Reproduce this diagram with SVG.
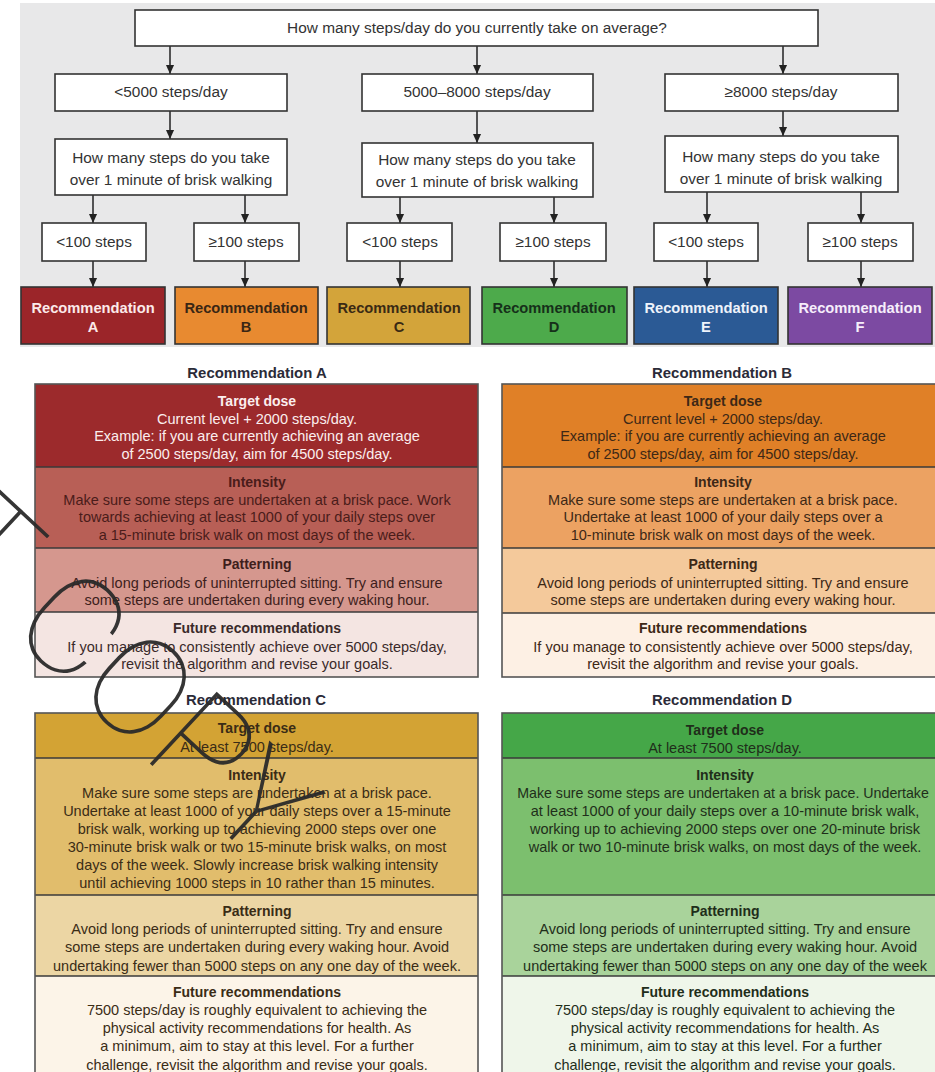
<svg xmlns="http://www.w3.org/2000/svg" width="935" height="1072" viewBox="0 0 935 1072">
<style>
text{font-family:"Liberation Sans",Arial,sans-serif;text-anchor:middle}
.q{font-size:15.4px;fill:#333}
.bx{fill:#fff;stroke:#333;stroke-width:1.6}
.rc{stroke:#333;stroke-width:1.6}
.rt{font-size:14.7px;font-weight:bold}
.hd{font-size:14.9px;font-weight:bold;fill:#2b2b38}
.sh{font-size:14px;font-weight:bold}
.b{font-size:14.5px}
.sec{stroke:#3a3a3a;stroke-width:1.5}
.conn line{stroke:#222;stroke-width:1.5;marker-end:url(#ah)}
</style>
<defs>
<marker id="ah" viewBox="0 0 10 10" refX="10" refY="5" markerWidth="9" markerHeight="9" markerUnits="userSpaceOnUse" orient="auto"><path d="M0,0.5 L10,5 L0,9.5 z" fill="#222"/></marker>
</defs>
<rect x="0" y="0" width="935" height="1072" fill="#fff"/>
<rect x="20" y="3" width="915" height="344" fill="#e8e8e9"/>

<g class="conn" id="connectors">
<line x1="170" y1="46" x2="170" y2="74"/>
<line x1="477" y1="46" x2="477" y2="74"/>
<line x1="783" y1="46" x2="783" y2="74"/>
<line x1="170" y1="111" x2="170" y2="139"/>
<line x1="477" y1="111" x2="477" y2="143"/>
<line x1="783" y1="111" x2="783" y2="136"/>
<line x1="93" y1="195" x2="93" y2="223"/>
<line x1="245" y1="195" x2="245" y2="223"/>
<line x1="400" y1="197" x2="400" y2="223"/>
<line x1="554" y1="197" x2="554" y2="223"/>
<line x1="707" y1="192" x2="707" y2="223"/>
<line x1="861" y1="192" x2="861" y2="223"/>
<line x1="93" y1="261" x2="93" y2="287"/>
<line x1="245" y1="261" x2="245" y2="287"/>
<line x1="400" y1="261" x2="400" y2="287"/>
<line x1="554" y1="261" x2="554" y2="287"/>
<line x1="707" y1="261" x2="707" y2="287"/>
<line x1="861" y1="261" x2="861" y2="287"/>
</g>

<g id="q-top"><rect class="bx" x="135" y="10" width="683" height="36"/><text class="q" x="477" y="33">How many steps/day do you currently take on average?</text></g>
<g id="lvl-lt5000"><rect class="bx" x="55" y="74" width="232" height="37"/><text class="q" x="171" y="97">&lt;5000 steps/day</text></g>
<g id="lvl-5000-8000"><rect class="bx" x="362" y="74" width="231" height="37"/><text class="q" x="477" y="97">5000–8000 steps/day</text></g>
<g id="lvl-ge8000"><rect class="bx" x="665" y="74" width="233" height="37"/><text class="q" x="781" y="97">≥8000 steps/day</text></g>

<g id="q-brisk-1"><rect class="bx" x="55" y="139" width="232" height="56"/><text class="q" x="171" y="163">How many steps do you take</text><text class="q" x="171" y="185">over 1 minute of brisk walking</text></g>
<g id="q-brisk-2"><rect class="bx" x="362" y="143" width="231" height="54"/><text class="q" x="477" y="165">How many steps do you take</text><text class="q" x="477" y="187">over 1 minute of brisk walking</text></g>
<g id="q-brisk-3"><rect class="bx" x="665" y="136" width="233" height="56"/><text class="q" x="781" y="162">How many steps do you take</text><text class="q" x="781" y="184">over 1 minute of brisk walking</text></g>

<g id="s-a"><rect class="bx" x="42" y="223" width="104" height="38"/><text class="q" x="94" y="247">&lt;100 steps</text></g>
<g id="s-b"><rect class="bx" x="194" y="223" width="105" height="38"/><text class="q" x="246" y="247">≥100 steps</text></g>
<g id="s-c"><rect class="bx" x="347" y="223" width="105" height="38"/><text class="q" x="400" y="247">&lt;100 steps</text></g>
<g id="s-d"><rect class="bx" x="500" y="223" width="106" height="38"/><text class="q" x="553" y="247">≥100 steps</text></g>
<g id="s-e"><rect class="bx" x="654" y="223" width="104" height="38"/><text class="q" x="706" y="247">&lt;100 steps</text></g>
<g id="s-f"><rect class="bx" x="808" y="223" width="105" height="38"/><text class="q" x="860" y="247">≥100 steps</text></g>

<g id="rec-a"><rect class="rc" x="21" y="287" width="144" height="57" fill="#9b2529"/><text class="rt" x="93" y="313" fill="#fbeaea">Recommendation</text><text class="rt" x="93" y="332" fill="#fbeaea">A</text></g>
<g id="rec-b"><rect class="rc" x="175" y="287" width="143" height="57" fill="#e88a30"/><text class="rt" x="246" y="313" fill="#3a2614">Recommendation</text><text class="rt" x="246" y="332" fill="#3a2614">B</text></g>
<g id="rec-c"><rect class="rc" x="327" y="287" width="143" height="57" fill="#d3a43a"/><text class="rt" x="399" y="313" fill="#3a2a14">Recommendation</text><text class="rt" x="399" y="332" fill="#3a2a14">C</text></g>
<g id="rec-d"><rect class="rc" x="482" y="287" width="145" height="57" fill="#4daa4b"/><text class="rt" x="554" y="313" fill="#16301a">Recommendation</text><text class="rt" x="554" y="332" fill="#16301a">D</text></g>
<g id="rec-e"><rect class="rc" x="634" y="287" width="144" height="57" fill="#2b5a95"/><text class="rt" x="706" y="313" fill="#eef3fb">Recommendation</text><text class="rt" x="706" y="332" fill="#eef3fb">E</text></g>
<g id="rec-f"><rect class="rc" x="788" y="287" width="144" height="57" fill="#7c4aa2"/><text class="rt" x="860" y="313" fill="#f6eefb">Recommendation</text><text class="rt" x="860" y="332" fill="#f6eefb">F</text></g>

<g id="detail-a">
<text class="hd" x="257" y="378">Recommendation A</text>
<rect x="35" y="384" width="443" height="83" fill="#9c2a2c"/>
<rect x="35" y="467" width="443" height="81" fill="#b85f56"/>
<rect x="35" y="548" width="443" height="64" fill="#d5978e"/>
<rect x="35" y="612" width="443" height="65" fill="#f4e5e2"/>
<line class="sec" x1="35" y1="467" x2="478" y2="467"/>
<line class="sec" x1="35" y1="548" x2="478" y2="548"/>
<line class="sec" x1="35" y1="612" x2="478" y2="612"/>
<rect x="35" y="384" width="443" height="293" fill="none" stroke="#555" stroke-width="1.6"/>
<g fill="#fbeeee"><text class="sh" x="257" y="406">Target dose</text>
<text class="b" x="257" y="424">Current level + 2000 steps/day.</text>
<text class="b" x="257" y="441">Example: if you are currently achieving an average</text>
<text class="b" x="257" y="459">of 2500 steps/day, aim for 4500 steps/day.</text></g>
<g fill="#4a1c1a"><text class="sh" x="257" y="487">Intensity</text>
<text class="b" x="257" y="505">Make sure some steps are undertaken at a brisk pace. Work</text>
<text class="b" x="257" y="522">towards achieving at least 1000 of your daily steps over</text>
<text class="b" x="257" y="540">a 15-minute brisk walk on most days of the week.</text></g>
<g fill="#3e1e1c"><text class="sh" x="257" y="569">Patterning</text>
<text class="b" x="257" y="588">Avoid long periods of uninterrupted sitting. Try and ensure</text>
<text class="b" x="257" y="605">some steps are undertaken during every waking hour.</text></g>
<g fill="#3a2a2a"><text class="sh" x="257" y="633">Future recommendations</text>
<text class="b" x="257" y="652">If you manage to consistently achieve over 5000 steps/day,</text>
<text class="b" x="257" y="669">revisit the algorithm and revise your goals.</text></g>
</g>

<g id="detail-b">
<text class="hd" x="722" y="378">Recommendation B</text>
<rect x="502" y="384" width="440" height="83" fill="#e08027"/>
<rect x="502" y="467" width="440" height="81" fill="#eca262"/>
<rect x="502" y="548" width="440" height="65" fill="#f4c99b"/>
<rect x="502" y="613" width="440" height="64" fill="#fdf0e4"/>
<line class="sec" x1="502" y1="467" x2="942" y2="467"/>
<line class="sec" x1="502" y1="548" x2="942" y2="548"/>
<line class="sec" x1="502" y1="613" x2="942" y2="613"/>
<rect x="502" y="384" width="440" height="293" fill="none" stroke="#555" stroke-width="1.6"/>
<g fill="#3d2816"><text class="sh" x="723" y="406">Target dose</text>
<text class="b" x="723" y="424">Current level + 2000 steps/day.</text>
<text class="b" x="723" y="441">Example: if you are currently achieving an average</text>
<text class="b" x="723" y="459">of 2500 steps/day, aim for 4500 steps/day.</text>
<text class="sh" x="723" y="487">Intensity</text>
<text class="b" x="723" y="505">Make sure some steps are undertaken at a brisk pace.</text>
<text class="b" x="723" y="522">Undertake at least 1000 of your daily steps over a</text>
<text class="b" x="723" y="540">10-minute brisk walk on most days of the week.</text>
<text class="sh" x="723" y="569">Patterning</text>
<text class="b" x="723" y="588">Avoid long periods of uninterrupted sitting. Try and ensure</text>
<text class="b" x="723" y="605">some steps are undertaken during every waking hour.</text>
<text class="sh" x="723" y="633">Future recommendations</text>
<text class="b" x="723" y="652">If you manage to consistently achieve over 5000 steps/day,</text>
<text class="b" x="723" y="669">revisit the algorithm and revise your goals.</text></g>
</g>

<g id="detail-c">
<text class="hd" x="256" y="705">Recommendation C</text>
<rect x="35" y="713" width="443" height="45" fill="#d3a334"/>
<rect x="35" y="758" width="443" height="137" fill="#e1bd6c"/>
<rect x="35" y="895" width="443" height="81" fill="#ecd6a4"/>
<rect x="35" y="976" width="443" height="100" fill="#fcf4e8"/>
<line class="sec" x1="35" y1="758" x2="478" y2="758"/>
<line class="sec" x1="35" y1="895" x2="478" y2="895"/>
<line class="sec" x1="35" y1="976" x2="478" y2="976"/>
<rect x="35" y="713" width="443" height="365" fill="none" stroke="#555" stroke-width="1.6"/>
<g fill="#3a2c16"><text class="sh" x="257" y="733">Target dose</text>
<text class="b" x="257" y="752">At least 7500 steps/day.</text>
<text class="sh" x="257" y="780">Intensity</text>
<text class="b" x="257" y="798">Make sure some steps are undertaken at a brisk pace.</text>
<text class="b" x="257" y="816">Undertake at least 1000 of your daily steps over a 15-minute</text>
<text class="b" x="257" y="834">brisk walk, working up to achieving 2000 steps over one</text>
<text class="b" x="257" y="852">30-minute brisk walk or two 15-minute brisk walks, on most</text>
<text class="b" x="257" y="870">days of the week. Slowly increase brisk walking intensity</text>
<text class="b" x="257" y="888">until achieving 1000 steps in 10 rather than 15 minutes.</text>
<text class="sh" x="257" y="916">Patterning</text>
<text class="b" x="257" y="934">Avoid long periods of uninterrupted sitting. Try and ensure</text>
<text class="b" x="257" y="952">some steps are undertaken during every waking hour. Avoid</text>
<text class="b" x="257" y="971">undertaking fewer than 5000 steps on any one day of the week.</text>
<text class="sh" x="257" y="997">Future recommendations</text>
<text class="b" x="257" y="1015">7500 steps/day is roughly equivalent to achieving the</text>
<text class="b" x="257" y="1033">physical activity recommendations for health. As</text>
<text class="b" x="257" y="1051">a minimum, aim to stay at this level. For a further</text>
<text class="b" x="257" y="1070">challenge, revisit the algorithm and revise your goals.</text></g>
</g>

<g id="detail-d">
<text class="hd" x="722" y="705">Recommendation D</text>
<rect x="502" y="713" width="452" height="45" fill="#45a748"/>
<rect x="502" y="758" width="452" height="137" fill="#7cbf6e"/>
<rect x="502" y="895" width="452" height="81" fill="#a9d39b"/>
<rect x="502" y="976" width="452" height="100" fill="#eff6ea"/>
<line class="sec" x1="502" y1="758" x2="954" y2="758"/>
<line class="sec" x1="502" y1="895" x2="954" y2="895"/>
<line class="sec" x1="502" y1="976" x2="954" y2="976"/>
<rect x="502" y="713" width="452" height="365" fill="none" stroke="#555" stroke-width="1.6"/>
<g fill="#1f2e1a"><text class="sh" x="725" y="735">Target dose</text>
<text class="b" x="725" y="753">At least 7500 steps/day.</text>
<text class="sh" x="725" y="780">Intensity</text>
<text class="b" x="723" y="798" style="font-size:14.2px">Make sure some steps are undertaken at a brisk pace. Undertake</text>
<text class="b" x="725" y="816">at least 1000 of your daily steps over a 10-minute brisk walk,</text>
<text class="b" x="725" y="834">working up to achieving 2000 steps over one 20-minute brisk</text>
<text class="b" x="725" y="852">walk or two 10-minute brisk walks, on most days of the week.</text>
<text class="sh" x="725" y="916">Patterning</text>
<text class="b" x="725" y="934">Avoid long periods of uninterrupted sitting. Try and ensure</text>
<text class="b" x="725" y="952">some steps are undertaken during every waking hour. Avoid</text>
<text class="b" x="725" y="971">undertaking fewer than 5000 steps on any one day of the week</text>
<text class="sh" x="725" y="997">Future recommendations</text>
<text class="b" x="725" y="1015">7500 steps/day is roughly equivalent to achieving the</text>
<text class="b" x="725" y="1033">physical activity recommendations for health. As</text>
<text class="b" x="725" y="1051">a minimum, aim to stay at this level. For a further</text>
<text class="b" x="725" y="1070">challenge, revisit the algorithm and revise your goals.</text></g>
</g>

<g id="watermark"><text transform="translate(261,867) rotate(43)" style="font-family:Roboto,'Liberation Sans',sans-serif;font-weight:100;font-size:138px;text-anchor:end" fill="#2a2a2a" fill-opacity="0.95">DO NOT COPY</text></g>
</svg>
